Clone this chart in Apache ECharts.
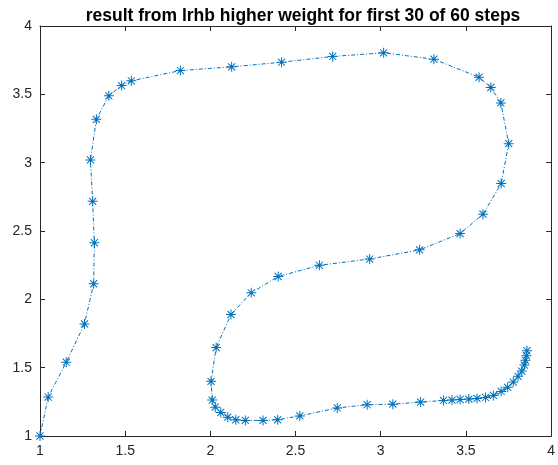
<!DOCTYPE html>
<html>
<head>
<meta charset="utf-8">
<script src="https://cdn.jsdelivr.net/npm/echarts@6/dist/echarts.min.js"></script>
<style>html,body{margin:0;padding:0;background:#fff;}#c{width:558px;height:465px;}</style>
</head>
<body>
<div id="c"></div>
<script>
const titleText = 'result from lrhb higher weight for first 30 of 60 steps';
const xTicks = [1, 1.5, 2, 2.5, 3, 3.5, 4];
const yTicks = [1, 1.5, 2, 2.5, 3, 3.5, 4];
const xs = [1.000, 1.048, 1.154, 1.261, 1.315, 1.319, 1.309, 1.296,
  1.331, 1.404, 1.479, 1.536, 1.824, 2.125, 2.418, 2.718, 3.017, 3.312, 3.577, 3.646, 3.705, 3.751,
  3.707, 3.600, 3.466, 3.228, 2.935, 2.640, 2.398, 2.240, 2.121, 2.034, 2.004,
  2.011, 2.029, 2.061, 2.102, 2.149, 2.205, 2.309, 2.395, 2.525, 2.745, 2.920, 3.071, 3.234,
  3.368, 3.418, 3.466, 3.517, 3.565, 3.615, 3.661, 3.707, 3.745, 3.778, 3.806, 3.828, 3.843, 3.849, 3.855, 3.858];
const ys = [1.000, 1.285, 1.540, 1.820, 2.114, 2.414, 2.717, 3.020,
  3.317, 3.489, 3.564, 3.599, 3.674, 3.701, 3.735, 3.777, 3.804, 3.757, 3.625, 3.550, 3.437, 3.139,
  2.847, 2.623, 2.481, 2.362, 2.295, 2.249, 2.167, 2.048, 1.889, 1.647, 1.400,
  1.263, 1.211, 1.172, 1.138, 1.119, 1.114, 1.114, 1.119, 1.147, 1.205, 1.229, 1.233, 1.248,
  1.260, 1.263, 1.267, 1.270, 1.275, 1.282, 1.297, 1.326, 1.356, 1.395, 1.437, 1.475, 1.519, 1.554, 1.588, 1.624];

const data = xs.map((x, i) => [x, ys[i]]);
const star = 'path://M9 0H11V20H9Z M0 9H20V11H0Z M2.22 3.64L3.64 2.22L17.78 16.36L16.36 17.78Z M16.36 2.22L17.78 3.64L3.64 17.78L2.22 16.36Z';
const axisCol = '#262626';
const font = 'Liberation Sans, Arial, sans-serif';

function axis(pos, showLabel, ticks) {
  return {
    type: 'value', position: pos,
    min: ticks[0], max: ticks[ticks.length - 1], interval: 0.5,
    axisLine: { show: true, onZero: false, lineStyle: { color: axisCol, width: 1 } },
    axisTick: { show: true, inside: true, length: 5, lineStyle: { color: axisCol, width: 1 } },
    axisLabel: { show: showLabel, color: axisCol, fontSize: 14, fontFamily: font, margin: 8,
      showMinLabel: true, showMaxLabel: true },
    splitLine: { show: false }
  };
}

const chart = echarts.init(document.getElementById('c'), null, { renderer: 'canvas' });
chart.setOption({
  animation: false,
  backgroundColor: '#ffffff',
  title: {
    text: titleText, left: 298, top: 2, textAlign: 'center',
    textStyle: { fontFamily: font, fontSize: 17.5, fontWeight: 'bold', color: '#000' }
  },
  grid: { left: 40, top: 26, width: 521, height: 410, containLabel: false },
  xAxis: [axis('bottom', true, xTicks), axis('top', false, xTicks)],
  yAxis: [axis('left', true, yTicks), axis('right', false, yTicks)],
  series: [{
    type: 'line', xAxisIndex: 0, yAxisIndex: 0,
    data: data,
    symbol: star, symbolSize: 10, showSymbol: true, showAllSymbol: true,
    itemStyle: { color: '#0072BD' },
    lineStyle: { color: '#0072BD', width: 1, type: [4, 2, 1, 2] },
    clip: false
  }]
});
</script>
</body>
</html>
